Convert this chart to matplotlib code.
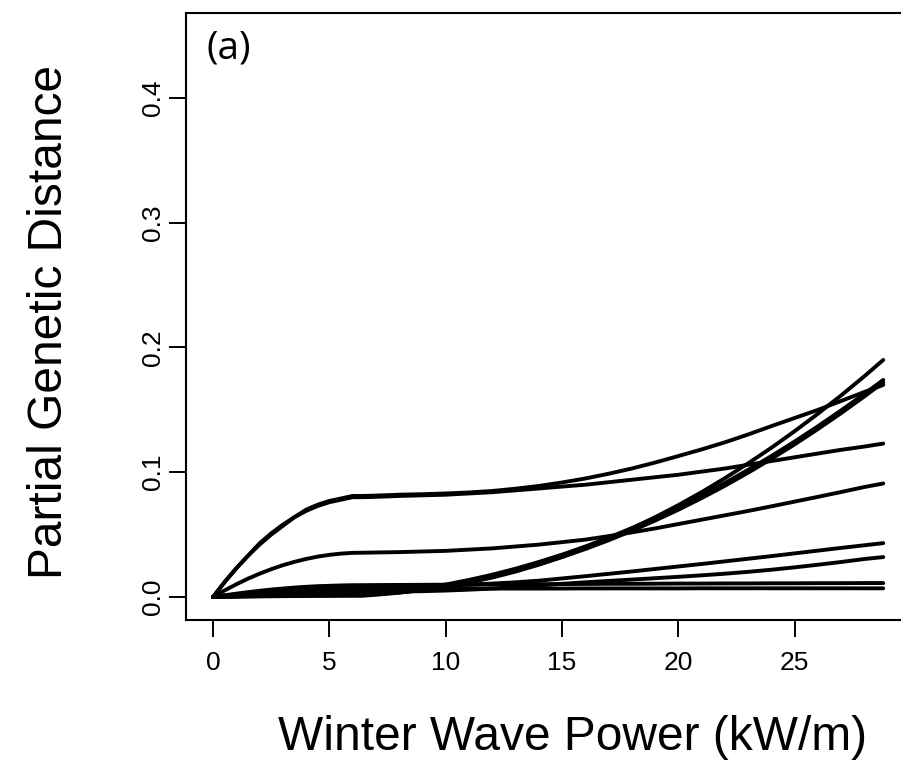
import matplotlib
matplotlib.use("Agg")
import matplotlib.pyplot as plt

# Sample positions along winter wave power (kW/m)
wave_power = [0, 0.5, 1, 1.5, 2, 2.5, 3, 3.5, 4, 4.5, 5, 5.5, 6, 6.4,
              7, 8, 9, 10, 11, 12, 13, 14, 15, 16, 17, 18, 19, 20, 21, 22,
              23, 24, 25, 26, 27, 28, 28.8]

# Partial genetic distance curves
curve_a1 = [0, 0.012, 0.023, 0.033, 0.043, 0.051, 0.058, 0.064, 0.070, 0.074, 0.077, 0.079, 0.081, 0.081,
            0.0813, 0.082, 0.0824, 0.083, 0.0838, 0.085, 0.0868, 0.089, 0.0918, 0.095, 0.0988, 0.103,
            0.1078, 0.113, 0.1183, 0.124, 0.1303, 0.137, 0.1435, 0.150, 0.1572, 0.1644, 0.170]
curve_a2 = [0, 0.012, 0.023, 0.033, 0.042, 0.050, 0.057, 0.064, 0.069, 0.073, 0.076, 0.078, 0.080, 0.080,
            0.0803, 0.081, 0.0815, 0.082, 0.083, 0.084, 0.0855, 0.087, 0.0885, 0.090, 0.092, 0.094,
            0.096, 0.098, 0.1005, 0.103, 0.106, 0.109, 0.112, 0.115, 0.118, 0.1206, 0.123]
curve_b = [0, 0.0053, 0.0102, 0.0147, 0.0187, 0.0223, 0.0255, 0.0282, 0.0305, 0.0324, 0.0338, 0.0348, 0.0354, 0.0355,
           0.0357, 0.036, 0.0365, 0.037, 0.038, 0.039, 0.0405, 0.042, 0.044, 0.046, 0.0488, 0.0518,
           0.055, 0.0585, 0.062, 0.0655, 0.069, 0.0727, 0.0765, 0.0803, 0.0842, 0.0882, 0.091]
curve_c1 = [0, 0.0003, 0.0006, 0.0009, 0.0011, 0.0013, 0.0015, 0.0016, 0.0017, 0.0018, 0.0019, 0.0019, 0.002, 0.002,
            0.0024, 0.0036, 0.0056, 0.0082, 0.0116, 0.0156, 0.0204, 0.0259, 0.0321, 0.039, 0.0466, 0.0549,
            0.064, 0.0737, 0.0841, 0.0953, 0.1072, 0.1197, 0.133, 0.147, 0.1617, 0.1771, 0.190]
curve_c2 = [0, 0.0002, 0.0004, 0.0006, 0.0008, 0.0009, 0.001, 0.0011, 0.0012, 0.0013, 0.0014, 0.0014, 0.0015, 0.0015,
            0.0024, 0.0044, 0.0069, 0.010, 0.0137, 0.0179, 0.0227, 0.0281, 0.034, 0.0405, 0.0476, 0.0553,
            0.0635, 0.0722, 0.0816, 0.0915, 0.102, 0.113, 0.1247, 0.1369, 0.1497, 0.1629, 0.174]
curve_c3 = [0, 0.0001, 0.0003, 0.0004, 0.0005, 0.0006, 0.0007, 0.0008, 0.0008, 0.0009, 0.0009, 0.001, 0.001, 0.001,
            0.0018, 0.0035, 0.0059, 0.0088, 0.0123, 0.0164, 0.021, 0.0263, 0.0321, 0.0385, 0.0455, 0.0531,
            0.0613, 0.070, 0.0793, 0.0892, 0.0997, 0.1108, 0.1224, 0.1347, 0.1475, 0.1609, 0.172]
curve_d1 = [0, 0.0014, 0.0027, 0.0039, 0.005, 0.006, 0.0068, 0.0076, 0.0082, 0.0087, 0.009, 0.0093, 0.0095, 0.0095,
            0.0096, 0.0097, 0.0098, 0.0099, 0.010, 0.0101, 0.0102, 0.0103, 0.0104, 0.0105, 0.0106, 0.0106,
            0.0107, 0.0108, 0.0108, 0.0109, 0.0109, 0.011, 0.011, 0.0111, 0.0111, 0.0112, 0.0112]
curve_d2 = [0, 0.001, 0.0019, 0.0027, 0.0034, 0.0041, 0.0047, 0.0052, 0.0056, 0.0059, 0.0062, 0.0064, 0.0065, 0.0065,
            0.0066, 0.0066, 0.0067, 0.0067, 0.0067, 0.0068, 0.0068, 0.0068, 0.0068, 0.0069, 0.0069, 0.0069,
            0.0069, 0.0069, 0.007, 0.007, 0.007, 0.007, 0.007, 0.007, 0.007, 0.007, 0.007]
curve_d3 = [0, 0.0011, 0.0021, 0.003, 0.0038, 0.0045, 0.0052, 0.0057, 0.0062, 0.0066, 0.0069, 0.0071, 0.0072, 0.0072,
            0.0074, 0.0078, 0.0084, 0.0091, 0.0099, 0.0108, 0.0118, 0.0131, 0.0149, 0.0167, 0.0186, 0.0205,
            0.0225, 0.0245, 0.0265, 0.0286, 0.0307, 0.0328, 0.035, 0.0372, 0.0394, 0.0415, 0.0432]
curve_d4 = [0, 0.0006, 0.0012, 0.0017, 0.0021, 0.0025, 0.0029, 0.0032, 0.0034, 0.0036, 0.0038, 0.0039, 0.004, 0.004,
            0.0041, 0.0043, 0.0047, 0.0052, 0.0059, 0.0068, 0.0079, 0.0092, 0.0106, 0.0118, 0.0129, 0.014,
            0.0151, 0.0162, 0.0174, 0.0187, 0.0202, 0.0219, 0.0238, 0.0259, 0.0281, 0.0305, 0.032]

curves = [curve_a1, curve_a2, curve_b, curve_c1, curve_c2, curve_c3,
          curve_d1, curve_d2, curve_d3, curve_d4]

x_ticks = [0, 5, 10, 15, 20, 25]
y_ticks = [0.0, 0.1, 0.2, 0.3, 0.4]
y_tick_labels = ["0.0", "0.1", "0.2", "0.3", "0.4"]

plt.rcParams['font.family'] = ['Liberation Sans', 'DejaVu Sans']

W, H = 901, 772
fig = plt.figure(figsize=(W / 100, H / 100), dpi=100)
left_px, right_px, top_px, bottom_px = 186, 910, 13, 620
ax = fig.add_axes([left_px / W, 1 - bottom_px / H,
                   (right_px - left_px) / W, (bottom_px - top_px) / H])

for c in curves:
    ax.plot(wave_power, c, color='black', linewidth=2.8,
            solid_capstyle='round', solid_joinstyle='round')

ax.set_xlim(-1.16, 29.95)
ax.set_ylim(-0.0184, 0.468)

ax.set_xticks(x_ticks)
ax.set_xticklabels([str(t) for t in x_ticks])
ax.set_yticks(y_ticks)
ax.set_yticklabels(y_tick_labels)

for s in ax.spines.values():
    s.set_linewidth(1.5)

ax.tick_params(axis='both', direction='out', length=12, width=1.4,
               labelsize=19, colors='black')
ax.tick_params(axis='x', pad=10)
ax.tick_params(axis='y', pad=3)
for lab in ax.get_yticklabels():
    lab.set_rotation(90)
    lab.set_va('center')

fig.text(573 / W, 1 - 738 / H, "Winter Wave Power (kW/m)", ha='center',
         va='center', fontsize=34.5)
fig.text(50 / W, 1 - 322 / H, "Partial Genetic Distance", ha='center',
         va='center', rotation=90, fontsize=34.5)
fig.text(229 / W, 1 - 48 / H, "(a)", ha='center', va='center',
         fontsize=28, family=['Open Sans', 'DejaVu Sans'])

fig.savefig("out.png", dpi=100)
